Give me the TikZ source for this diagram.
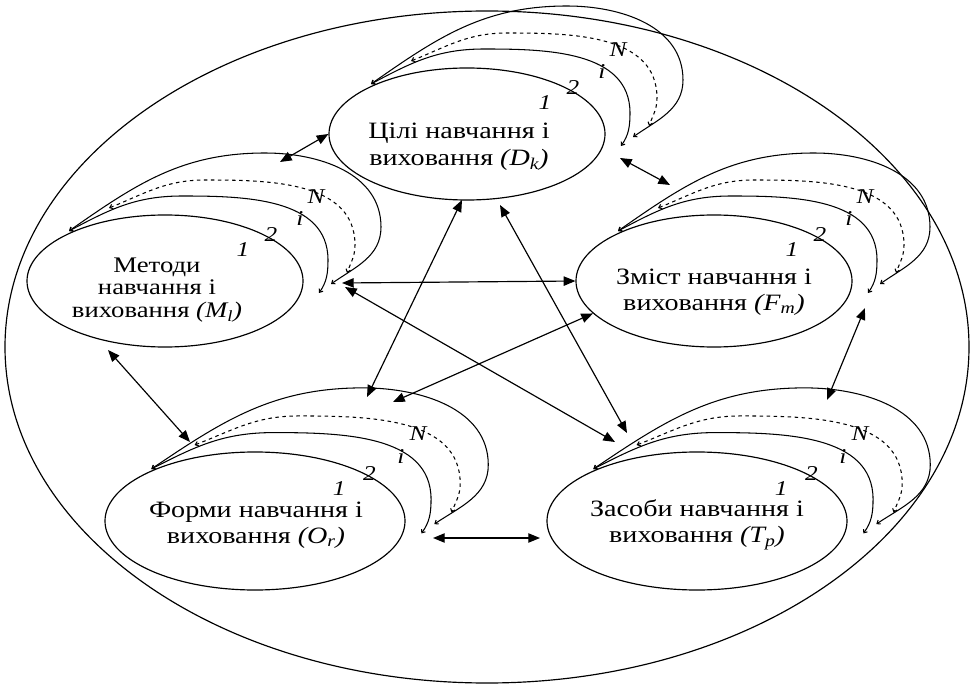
\documentclass[tikz,border=0pt]{standalone}
\usepackage{fontspec}
\setmainfont{Liberation Serif}[FakeStretch=1.2]
\usepackage{tikz}
\usetikzlibrary{shapes.geometric,arrows.meta}
\tikzset{
  font={\fontsize{20pt}{22pt}\selectfont}}

% back layers of one group: centre x, centre y, xscale, yscale
\newcommand{\layers}[4]{%
\begin{scope}[shift={(#1,#2)},xscale=#3,yscale=#4]
\draw [layer] (-96,50) to[out=28,in=180] (17,85) to[out=0,in=90] (163,21) to[out=-90,in=55] (154,-12);
\draw [layer,dashed] (-56,73) to[out=22,in=180] (40,101) to[out=0,in=90] (190,36) to[out=-90,in=70] (182,8);
\draw [layer] (-96,50) to[out=35,in=180] (100,128) to[out=0,in=90] (216,54) to[out=-90,in=35] (166,-3);
\end{scope}}

% layer numbers of one group
\newcommand{\layernums}[4]{%
\begin{scope}[shift={(#1,#2)},xscale=#3,yscale=#4]
\node [num] at (78,31) {1};
\node [num] at (106,46) {2};
\node [num] at (135,62) {i};
\node [num] at (151,84) {N};
\end{scope}}

\begin{document}
\begin{tikzpicture}[x=0.03cm,y=0.03cm,
  ell/.style={ellipse,draw,line width=1pt,fill=white,inner sep=0pt,
    minimum width=8.28cm,minimum height=3.96cm},
  wide/.style={ell,minimum width=9cm,minimum height=4.14cm},
  txt/.style={align=center,inner sep=0pt,font={\fontsize{20pt}{22pt}\selectfont}},
  layer/.style={line width=0.9pt,
    arrows={Straight Barb[length=2.5pt,width=4pt]-Straight Barb[length=2.5pt,width=4pt]}},
  num/.style={inner sep=0pt,font={\fontsize{18pt}{18pt}\selectfont\itshape}},
  conn/.style={line width=1pt,
    arrows={Triangle[length=10pt,width=8pt]-Triangle[length=10pt,width=8pt]}}]
\useasboundingbox (0,0) rectangle (972,686);
\draw [line width=1pt] (487,339) ellipse [x radius=482, y radius=336];

% groups
\layers{467}{552}{1}{1}
\layers{165}{405}{1}{1}
\layers{714}{405}{1}{1}
\layers{255}{165}{1.08}{1.04}
\layers{697}{165}{1.08}{1.04}

\node [ell] (D) at (467,552) {};
\node [ell] (M) at (165,405) {};
\node [ell] (F) at (714,405) {};
\node [wide] (O) at (255,165) {};
\node [wide] (T) at (697,165) {};

\node [txt,font={\fontsize{20pt}{23pt}\selectfont}] (Dt) at ([shift={(-8,-13)}]D.center) {Цілі навчання і\\виховання \textit{(D\textsubscript{k})}};
\node [txt,font={\fontsize{19pt}{19pt}\selectfont}] (Mt) at ([shift={(-8,-9)}]M.center) {Методи\\навчання і\\виховання \textit{(M\textsubscript{l})}};
\node [txt] (Ft) at ([shift={(0,-11)}]F.center) {Зміст навчання і\\виховання \textit{(F\textsubscript{m})}};
\node [txt] (Ot) at ([shift={(1,-4)}]O.center) {Форми навчання і\\виховання \textit{(O\textsubscript{r})}};
\node [txt] (Tt) at ([shift={(0,-4)}]T.center) {Засоби навчання і\\виховання \textit{(T\textsubscript{p})}};

\layernums{467}{552}{1}{1}
\layernums{165}{405}{1}{1}
\layernums{714}{405}{1}{1}
\layernums{255}{165}{1.08}{1.04}
\layernums{697}{165}{1.08}{1.04}

% arrow ends on the back layers
\coordinate (mD) at (280,524);
\coordinate (dF) at (620,528);
\coordinate (fD) at (670,501);
\coordinate (mF) at (342,403);
\coordinate (mT) at (345,399);
\coordinate (tM) at (615,244);
\coordinate (oF) at (393,284);
\coordinate (dO) at (462,486);
\coordinate (oD) at (367,289);
\coordinate (dT) at (500,481);
\coordinate (tD) at (627,253);
\coordinate (mO) at (108,336);
\coordinate (oM) at (190,244);
\coordinate (fT) at (865,378);
\coordinate (tF) at (827,286);
\coordinate (oT) at (433,148);
\coordinate (tO) at (540,148);

\draw [conn] (mD) -- (D.west);
\draw [conn] (dF) -- (fD);
\draw [conn] (mF) -- (F.west);
\draw [conn] (mT) -- (tM);
\draw [conn] (F.195) -- (oF);
\draw [conn] (dO) -- (oD);
\draw [conn] (dT) -- (tD);
\draw [conn] (mO) -- (oM);
\draw [conn] (fT) -- (tF);
\draw [conn] (oT) -- (tO);
\end{tikzpicture}
\end{document}
